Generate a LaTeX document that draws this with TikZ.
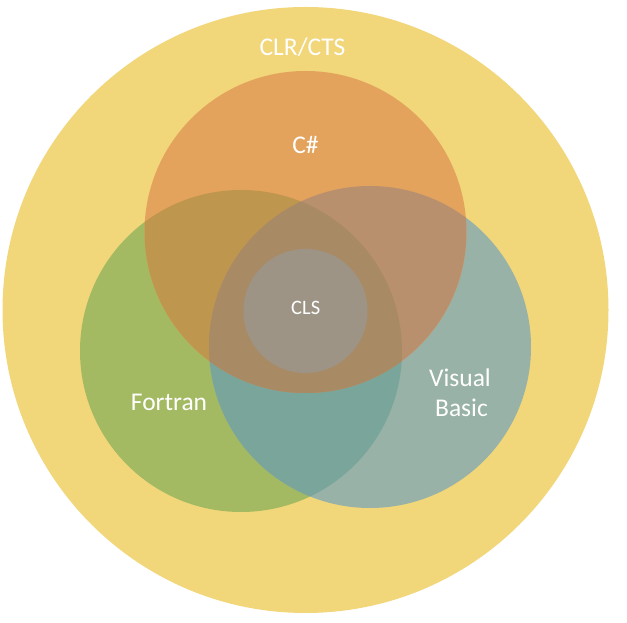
\documentclass[tikz,border=0pt]{standalone}
\usepackage{fontspec}
\setmainfont{Carlito}
\definecolor{cYel}{RGB}{241,214,122}
\definecolor{cOra}{RGB}{228,163,92}
\definecolor{cGre}{RGB}{163,186,98}
\definecolor{cBlu}{RGB}{152,178,167}
\definecolor{cOG}{RGB}{191,150,78}
\definecolor{cOB}{RGB}{185,144,110}
\definecolor{cGB}{RGB}{122,165,155}
\definecolor{cOGB}{RGB}{168,138,101}
\definecolor{cCLS}{RGB}{157,148,134}
\tikzset{
  lbl/.style={text=white, anchor=base, inner sep=0pt, font=\fontsize{25.5}{30}\selectfont},
  lblsmall/.style={lbl, font=\fontsize{20.5}{24}\selectfont}
}
\begin{document}
\begin{tikzpicture}[x=1pt,y=1pt]
\useasboundingbox (0,0) rectangle (627,623);
\coordinate (cOut) at (305.5,313);
\coordinate (cO) at (305.5,391);
\coordinate (cG) at (241,272);
\coordinate (cB) at (370,276);
\coordinate (cC) at (305.5,312);
\def\R{161}
% outer
\fill[cYel] (cOut) circle[radius=303];
% single circles
\fill[cGre] (cG) circle[radius=\R];
\fill[cBlu] (cB) circle[radius=\R];
\fill[cOra] (cO) circle[radius=\R];
% pairwise overlaps
\begin{scope}
  \clip (cG) circle[radius=\R];
  \fill[cGB] (cB) circle[radius=\R];
  \fill[cOG] (cO) circle[radius=\R];
\end{scope}
\begin{scope}
  \clip (cB) circle[radius=\R];
  \fill[cOB] (cO) circle[radius=\R];
\end{scope}
% triple overlap
\begin{scope}
  \clip (cG) circle[radius=\R];
  \clip (cB) circle[radius=\R];
  \fill[cOGB] (cO) circle[radius=\R];
\end{scope}
% CLS
\fill[cCLS] (cC) circle[radius=62];
% labels
\node[lbl] (clr) at (302.5,567) {CLR/CTS};
\node[lbl] (cs) at (305.5,469) {C\#};
\node[lblsmall] (cls) at (305.7,308) {CLS};
\node[lbl] (fort) at (169,212) {Fortran};
\node[lbl] (vis) at (460,236) {Visual};
\node[lbl] (bas) at (461.5,206) {Basic};
\end{tikzpicture}
\end{document}
